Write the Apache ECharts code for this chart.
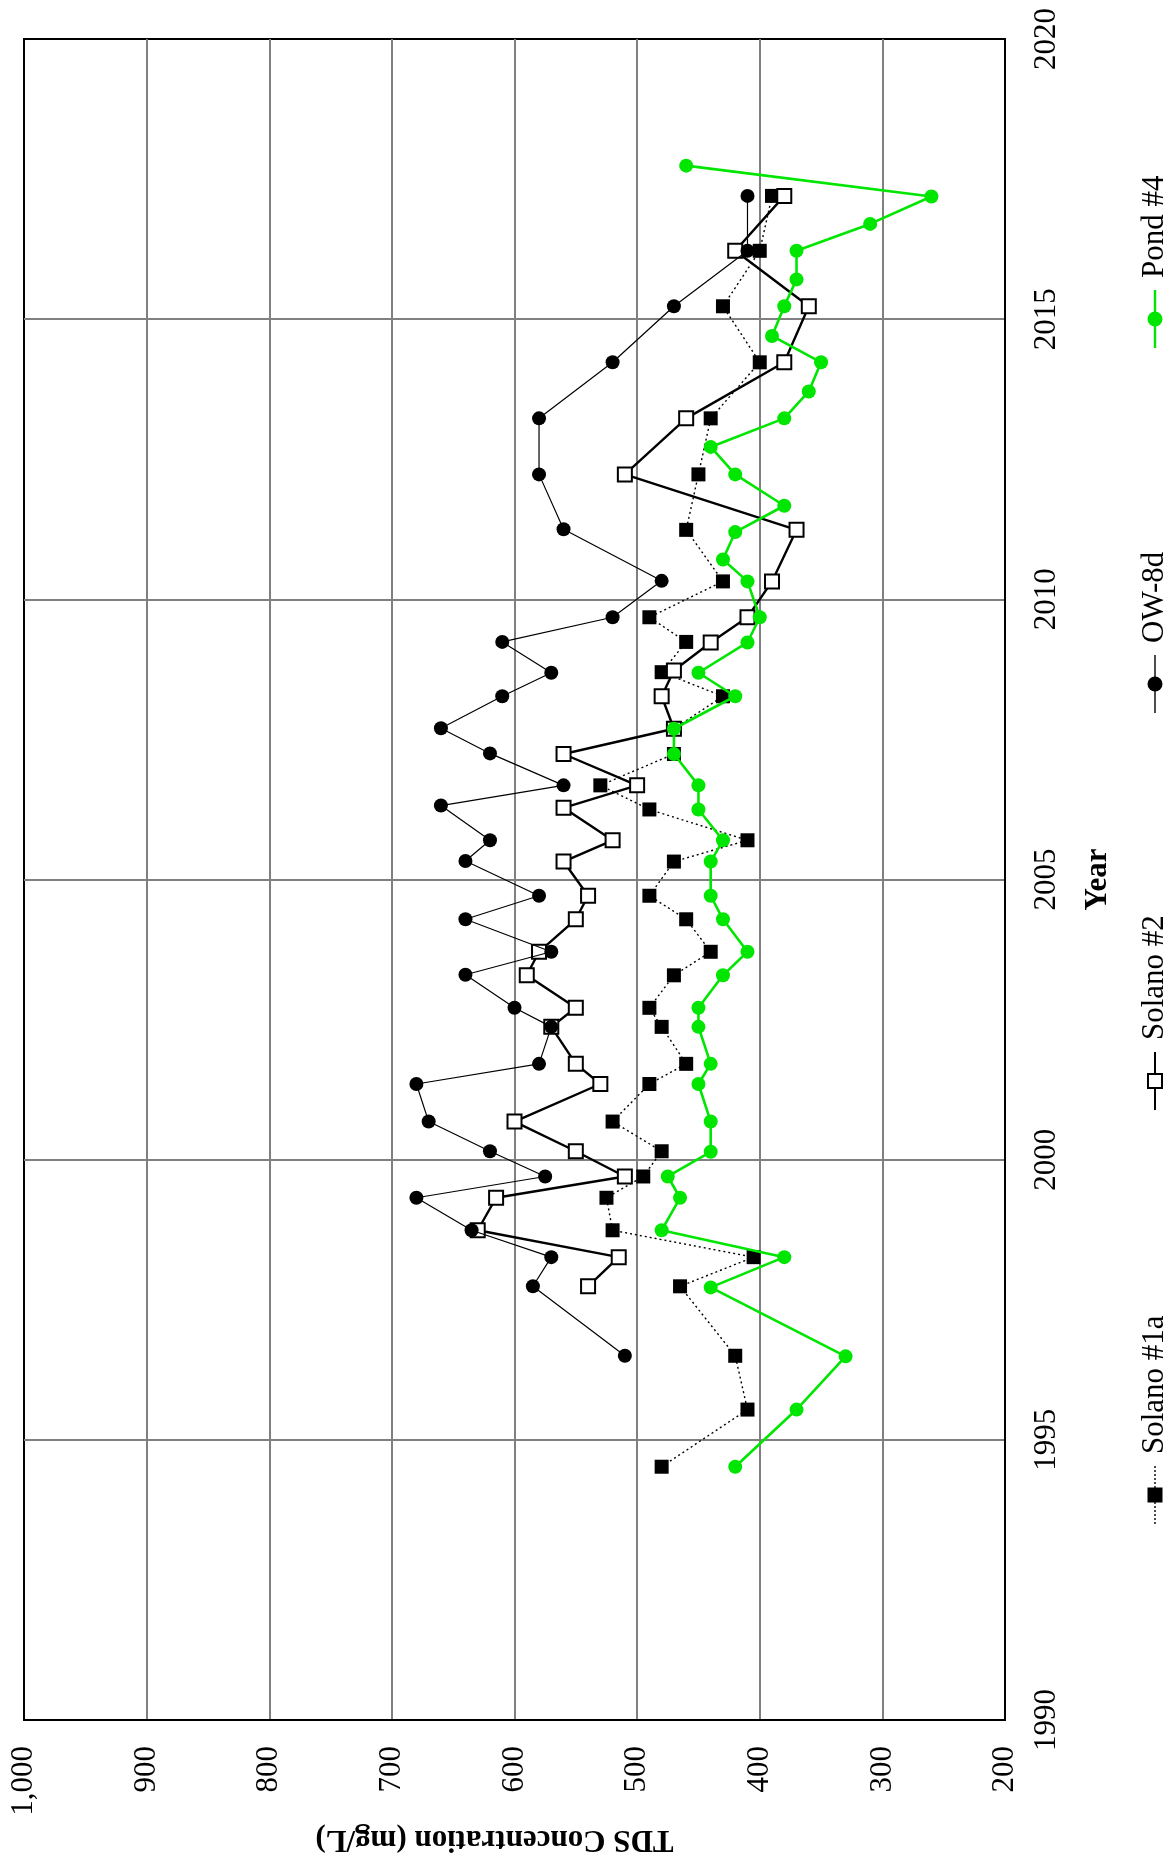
<!DOCTYPE html>
<html>
<head>
<meta charset="utf-8">
<script src="https://cdn.jsdelivr.net/npm/echarts@6/dist/echarts.min.js"></script>
<style>
html,body{margin:0;padding:0;background:#fff;overflow:hidden}
#chart{width:1171px;height:1860px}
</style>
</head>
<body>
<div id="chart"></div>
<script>
// ---- data (TDS in mg/L versus decimal year) ----
const seriesNames = ['Solano #1a', 'Solano #2', 'OW-8d', 'Pond #4'];

const solano1aYears = [1994.52, 1995.54, 1996.5, 1997.74, 1998.26, 1998.74, 1999.32, 1999.7, 2000.15, 2000.68,
  2001.35, 2001.71, 2002.37, 2002.71, 2003.29, 2003.71, 2004.29, 2004.71, 2005.32, 2005.7,
  2006.25, 2006.68, 2007.24, 2007.69, 2008.27, 2008.7, 2009.24, 2009.68, 2010.32, 2011.24,
  2012.23, 2013.23, 2014.23, 2015.23, 2016.22, 2017.2];
const solano1aTDS = [480, 410, 420, 465, 405, 520, 525, 495, 480, 520,
  490, 460, 480, 490, 470, 440, 460, 490, 470, 410,
  490, 530, 470, 470, 430, 480, 460, 490, 430, 460,
  450, 440, 400, 430, 400, 390];

const solano2Years = [1997.74, 1998.26, 1998.74, 1999.32, 1999.7, 2000.15, 2000.68, 2001.35, 2001.71, 2002.37,
  2002.71, 2003.29, 2003.71, 2004.29, 2004.71, 2005.32, 2005.7, 2006.28, 2006.68, 2007.24,
  2007.69, 2008.27, 2008.73, 2009.23, 2009.68, 2010.32, 2011.24, 2012.23, 2013.23, 2014.23,
  2015.23, 2016.22, 2017.2];
const solano2TDS = [540, 515, 630, 615, 510, 550, 600, 530, 550, 570,
  550, 590, 580, 550, 540, 560, 520, 560, 500, 560,
  470, 480, 470, 440, 410, 390, 370, 510, 460, 380,
  360, 420, 380];

const ow8dYears = [1996.5, 1997.74, 1998.26, 1998.74, 1999.32, 1999.7, 2000.15, 2000.68, 2001.35, 2001.71,
  2002.37, 2002.71, 2003.3, 2003.71, 2004.29, 2004.71, 2005.33, 2005.7, 2006.32, 2006.68,
  2007.25, 2007.7, 2008.27, 2008.69, 2009.24, 2009.68, 2010.33, 2011.25, 2012.23, 2013.23,
  2014.23, 2015.23, 2016.22, 2017.2];
const ow8dTDS = [510, 585, 570, 635, 680, 575, 620, 670, 680, 580,
  570, 600, 640, 570, 640, 580, 640, 620, 660, 560,
  620, 660, 610, 570, 610, 520, 480, 560, 580, 580,
  520, 470, 410, 410];

const pond4Years = [1994.52, 1995.54, 1996.49, 1997.72, 1998.26, 1998.74, 1999.32, 1999.7, 2000.14, 2000.68,
  2001.35, 2001.71, 2002.37, 2002.71, 2003.29, 2003.71, 2004.29, 2004.71, 2005.32, 2005.7,
  2006.25, 2006.68, 2007.24, 2007.69, 2008.27, 2008.69, 2009.23, 2009.68, 2010.32, 2010.71,
  2011.2, 2011.67, 2012.23, 2012.72, 2013.23, 2013.71, 2014.23, 2014.7, 2015.23, 2015.71,
  2016.22, 2016.7, 2017.19, 2017.74];
const pond4TDS = [420, 370, 330, 440, 380, 480, 465, 475, 440, 440,
  450, 440, 450, 450, 430, 410, 430, 440, 440, 430,
  450, 450, 470, 470, 420, 450, 410, 400, 410, 430,
  420, 380, 420, 440, 380, 360, 350, 390, 380, 370,
  370, 310, 260, 460];

// axis ranges / ticks
const tdsMin = 200, tdsMax = 1000, tdsStep = 100;
const yearMin = 1990, yearMax = 2020, yearStep = 5;
const tdsAxisTitle = 'TDS Concentration (mg/L)';
const yearAxisTitle = 'Year';

// ---- rendering ----
const FONT = '"Liberation Serif", "Times New Roman", Times, serif';
const GREEN = '#00e600';
const pairs = (years, vals) => years.map((y, i) => [vals[i], y]);
const withCommas = v => String(v).replace(/\B(?=(\d{3})+(?!\d))/g, ',');
const plainYear = v => String(v);

const chart = echarts.init(document.getElementById('chart'), null, { renderer: 'canvas' });

function legendItem(yStart, name, lineStyle, symbol) {
  return {
    type: 'group', x: 1155, y: yStart, rotation: Math.PI / 2, silent: true,
    children: [
      { type: 'line', shape: { x1: 0, y1: 0, x2: 58, y2: 0 }, style: lineStyle },
      symbol,
      { type: 'text', x: 70, y: 0,
        style: { text: name, font: '31px ' + FONT, fill: '#000',
                 textAlign: 'left', textVerticalAlign: 'middle', align: 'left', verticalAlign: 'middle' } }
    ]
  };
}

const labelStyle = { color: '#000', fontFamily: FONT, fontSize: 31 };
const titleStyle = { color: '#000', fontFamily: FONT, fontSize: 31, fontWeight: 'bold' };

chart.setOption({
  animation: false,
  backgroundColor: '#fff',
  grid: { left: 24, right: 166, top: 39, bottom: 140, containLabel: false,
          show: true, borderColor: '#000', borderWidth: 2, backgroundColor: 'transparent' },
  xAxis: {
    type: 'value', min: tdsMin, max: tdsMax, interval: tdsStep, inverse: true, position: 'bottom',
    axisLine: { show: true, onZero: false, lineStyle: { color: '#000', width: 2 } },
    axisTick: { show: false },
    splitLine: { show: true, showMinLine: false, showMaxLine: false, lineStyle: { color: '#808080', width: 2 } },
    axisLabel: Object.assign({ rotate: 90, margin: 26, formatter: withCommas }, labelStyle),
    name: tdsAxisTitle, nameLocation: 'middle', nameGap: 104, nameRotate: 180,
    nameTextStyle: Object.assign({ padding: [0, 0, 0, 40] }, titleStyle)
  },
  yAxis: {
    type: 'value', min: yearMin, max: yearMax, interval: yearStep, position: 'right',
    axisLine: { show: true, onZero: false, lineStyle: { color: '#000', width: 2 } },
    axisTick: { show: false },
    splitLine: { show: true, showMinLine: false, showMaxLine: false, lineStyle: { color: '#808080', width: 2 } },
    axisLabel: Object.assign({ rotate: 90, margin: 26, formatter: plainYear }, labelStyle),
    name: yearAxisTitle, nameLocation: 'middle', nameGap: 77, nameRotate: 90,
    nameTextStyle: titleStyle
  },
  series: [
    { name: seriesNames[0], type: 'line', data: pairs(solano1aYears, solano1aTDS),
      symbol: 'rect', symbolSize: 14, showAllSymbol: true,
      lineStyle: { color: '#000', width: 1.4, type: [2, 3] },
      itemStyle: { color: '#000' }, emphasis: { disabled: true }, silent: true, z: 2 },
    { name: seriesNames[1], type: 'line', data: pairs(solano2Years, solano2TDS),
      symbol: 'rect', symbolSize: 14, showAllSymbol: true,
      lineStyle: { color: '#000', width: 2.4 },
      itemStyle: { color: '#fff', borderColor: '#000', borderWidth: 2 }, emphasis: { disabled: true }, silent: true, z: 3 },
    { name: seriesNames[2], type: 'line', data: pairs(ow8dYears, ow8dTDS),
      symbol: 'circle', symbolSize: 14, showAllSymbol: true,
      lineStyle: { color: '#000', width: 1.2 },
      itemStyle: { color: '#000' }, emphasis: { disabled: true }, silent: true, z: 4 },
    { name: seriesNames[3], type: 'line', data: pairs(pond4Years, pond4TDS),
      symbol: 'circle', symbolSize: 14, showAllSymbol: true,
      lineStyle: { color: GREEN, width: 2.6 },
      itemStyle: { color: GREEN }, emphasis: { disabled: true }, silent: true, z: 5 }
  ],
  graphic: [
    legendItem(1524, seriesNames[0], { stroke: '#000', lineWidth: 1.4, lineDash: [2, 2] },
      { type: 'rect', shape: { x: 21.5, y: -7.5, width: 15, height: 15 }, style: { fill: '#000' } }),
    legendItem(1110, seriesNames[1], { stroke: '#000', lineWidth: 2 },
      { type: 'rect', shape: { x: 22, y: -7, width: 14, height: 14 }, style: { fill: '#fff', stroke: '#000', lineWidth: 2 } }),
    legendItem(713, seriesNames[2], { stroke: '#000', lineWidth: 1.4 },
      { type: 'circle', shape: { cx: 29, cy: 0, r: 7.5 }, style: { fill: '#000' } }),
    legendItem(348, seriesNames[3], { stroke: GREEN, lineWidth: 2.4 },
      { type: 'circle', shape: { cx: 29, cy: 0, r: 7.5 }, style: { fill: GREEN } })
  ]
});
</script>
</body>
</html>
